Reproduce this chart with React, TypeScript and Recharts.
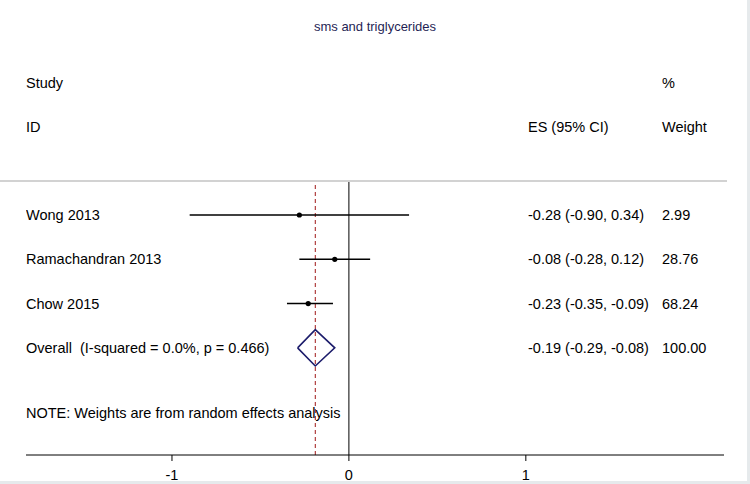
import { ComposedChart, Scatter, XAxis, YAxis, ReferenceLine } from 'recharts';

const studies = ['Wong 2013', 'Ramachandran 2013', 'Chow 2015'];
const effects = [-0.28, -0.08, -0.23];
const lowers = [-0.9, -0.28, -0.35];
const uppers = [0.34, 0.12, -0.09];
const weights = ['2.99', '28.76', '68.24'];

const overallLabel = 'Overall\u00a0\u00a0(I-squared = 0.0%, p = 0.466)';
const overallEffect = -0.19;
const overallLower = -0.29;
const overallUpper = -0.08;
const overallWeight = '100.00';

const xTicks = [-1, 0, 1];

const FONT = '"Liberation Sans", Arial, sans-serif';
const fmt = (v: number) => v.toFixed(2);

const rows = [
  ...studies.map((name, i) => ({
    row: i + 1,
    es: effects[i],
    label: name,
    ci: `${fmt(effects[i])} (${fmt(lowers[i])}, ${fmt(uppers[i])})`,
    weight: weights[i],
  })),
  {
    row: studies.length + 1,
    es: overallEffect,
    label: overallLabel,
    ci: `${fmt(overallEffect)} (${fmt(overallLower)}, ${fmt(overallUpper)})`,
    weight: overallWeight,
  },
];

const dots = studies.map((_, i) => ({ row: i + 1, es: effects[i] }));

const overallRow = studies.length + 1;
const diamond = [
  { es: overallLower, row: overallRow },
  { es: overallEffect, row: overallRow - 0.41 },
  { es: overallUpper, row: overallRow },
  { es: overallEffect, row: overallRow + 0.41 },
  { es: overallLower, row: overallRow },
];

const RowText = (props: any) => {
  const { cy, payload } = props;
  const y = cy + 5;
  return (
    <g fontFamily={FONT} fontSize={14.5} fill="#000">
      <text x={26} y={y}>{payload.label}</text>
      <text x={528} y={y}>{payload.ci}</text>
      <text x={662} y={y}>{payload.weight}</text>
    </g>
  );
};

const Dot = (props: any) => <circle cx={props.cx} cy={props.cy} r={2.6} fill="#000" />;

export default function App() {
  return (
    <div style={{ position: 'absolute', left: 0, top: 0, width: 750, height: 484, background: '#fff' }}>
      <ComposedChart
        width={750}
        height={484}
        margin={{ top: 181, right: 26, bottom: 0, left: 26 }}
      >
        <XAxis
          type="number"
          dataKey="es"
          domain={[-1.825, 2.12]}
          ticks={xTicks}
          allowDataOverflow
          height={29}
          stroke="#000"
          tickSize={6}
          tickMargin={9}
          tick={{ fill: '#000', fontSize: 14.5, fontFamily: FONT }}
        />
        <YAxis type="number" dataKey="row" domain={[0.232, 6.42]} reversed hide allowDataOverflow />
        <ReferenceLine x={0} stroke="#000" strokeWidth={1} />
        <ReferenceLine x={overallEffect} stroke="#a01818" strokeDasharray="4 3" strokeWidth={1} />
        {studies.map((s, i) => (
          <ReferenceLine
            key={s}
            segment={[
              { x: lowers[i], y: i + 1 },
              { x: uppers[i], y: i + 1 },
            ]}
            stroke="#000"
            strokeWidth={1.6}
          />
        ))}
        <Scatter data={dots} shape={Dot} isAnimationActive={false} />
        <Scatter
          data={diamond}
          line={{ stroke: '#1c1c6b', strokeWidth: 1.6 }}
          lineType="joint"
          shape={() => <g />}
          isAnimationActive={false}
        />
        <Scatter data={rows} shape={RowText} isAnimationActive={false} />
      </ComposedChart>
      <svg
        width={750}
        height={484}
        style={{ position: 'absolute', left: 0, top: 0, pointerEvents: 'none' }}
        fontFamily={FONT}
      >
        <text x={375} y={31} textAnchor="middle" fontSize={13} fill="#1f1f55">
          sms and triglycerides
        </text>
        <g fontSize={14.5} fill="#000">
          <text x={26} y={88}>Study</text>
          <text x={662} y={88}>%</text>
          <text x={26} y={132}>ID</text>
          <text x={528} y={132}>ES (95% CI)</text>
          <text x={662} y={132}>Weight</text>
          <text x={26} y={418}>NOTE: Weights are from random effects analysis</text>
        </g>
        <line x1={0} x2={727} y1={181} y2={181} stroke="#d2d2d2" strokeWidth={2} />
        <line x1={748.5} x2={748.5} y1={0} y2={484} stroke="#e6eaec" strokeWidth={3} />
        <line x1={0} x2={750} y1={482.5} y2={482.5} stroke="#e6eaec" strokeWidth={3} />
      </svg>
    </div>
  );
}
